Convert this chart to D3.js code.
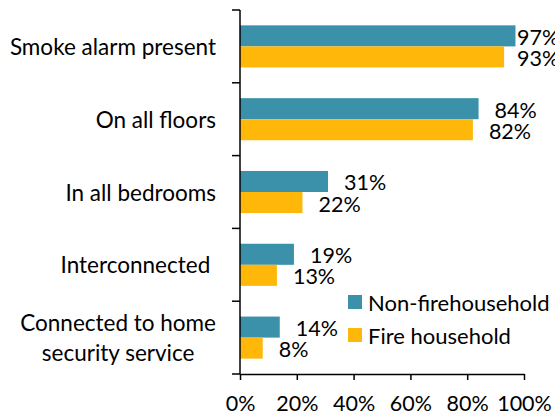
<!DOCTYPE html>
<html>
<head>
<meta charset="utf-8">
<script src="https://cdn.jsdelivr.net/npm/d3@7"></script>
<style>
  html, body { margin: 0; padding: 0; background: #fff; }
  svg { display: block; }
  text { font-family: Lato, "Open Sans", sans-serif; fill: #000; }
</style>
</head>
<body>
<svg id="chart" width="555" height="416"></svg>
<script>
const categories = ["Smoke alarm present", "On all floors", "In all bedrooms", "Interconnected ", "Connected to home\nsecurity service"];
const series = ["Non-firehousehold", "Fire household"];
const nonFire = [97, 84, 31, 19, 14];
const fire = [93, 82, 22, 13, 8];
const xTicks = [0, 20, 40, 60, 80, 100];
const colors = ["#3A91A9", "#FFB70A"];

const values = [nonFire, fire];
const svg = d3.select("#chart");
const FS_NUM = 21.5, FS_CAT = 22.5, FS_LEG = 22;

const x = d3.scaleLinear().domain([0, 100]).range([240, 524]);
const y = d3.scaleBand().domain(categories).range([10, 374]).padding(0);
const ys = d3.scaleBand().domain(series).range([0, y.bandwidth()]).paddingInner(0).paddingOuter(0.73);

// bars
categories.forEach((c, i) => {
  const g = svg.append("g").attr("transform", `translate(0,${y(c)})`);
  series.forEach((s, j) => {
    const v = values[j][i];
    g.append("rect")
      .attr("x", x(0))
      .attr("y", ys(s))
      .attr("width", x(v) - x(0))
      .attr("height", ys.bandwidth())
      .attr("fill", colors[j]);
    g.append("text")
      .attr("x", Math.min(x(v) + 16, 517))
      .attr("y", ys(s) + ys.bandwidth() / 2 + 1)
      .attr("dominant-baseline", "central")
      .attr("font-size", FS_NUM)
      .text(v + "%");
  });
});

// y axis
const yAxis = svg.append("g");
yAxis.append("line").attr("x1", 240).attr("x2", 240).attr("y1", 10).attr("y2", 374)
  .attr("stroke", "#000").attr("stroke-width", 1.5);
const boundaries = categories.map(c => y(c)).concat([y.range()[1]]);
boundaries.forEach(b => {
  yAxis.append("line").attr("x1", 232).attr("x2", 240).attr("y1", b).attr("y2", b)
    .attr("stroke", "#000").attr("stroke-width", 1.5);
});
categories.forEach(c => {
  const lines = c.split("\n");
  const cy = y(c) + y.bandwidth() / 2;
  const lh = 30;
  const nodes = lines.map((ln, k) => yAxis.append("text")
      .attr("y", cy + (k - (lines.length - 1) / 2) * lh)
      .attr("dominant-baseline", "central")
      .attr("text-anchor", "middle")
      .attr("font-size", FS_CAT)
      .attr("xml:space", "preserve")
      .style("white-space", "pre")
      .text(ln));
  if (lines.length === 1) {
    nodes[0].attr("text-anchor", "end").attr("x", 216);
  } else {
    const maxW = d3.max(nodes, n => n.node().getComputedTextLength());
    nodes.forEach(n => n.attr("x", 216 - maxW / 2));
  }
});

// x axis
const xAxis = d3.axisBottom(x).tickValues(xTicks).tickFormat(d => d + "%").tickSize(6).tickSizeOuter(0);
const xg = svg.append("g").attr("transform", "translate(0,374)").call(xAxis);
xg.select(".domain").attr("stroke", "#000").attr("stroke-width", 1.5);
xg.selectAll(".tick line").attr("stroke", "#000").attr("stroke-width", 1.5);
xg.selectAll(".tick text").attr("font-size", FS_NUM).attr("font-family", "Lato, sans-serif")
  .attr("fill", "#000").attr("dy", null).attr("y", 37);

// legend
const legend = svg.append("g");
series.forEach((s, j) => {
  const ly = 295 + j * 33;
  legend.append("rect").attr("x", 348).attr("y", ly).attr("width", 14).attr("height", 14).attr("fill", colors[j]);
  legend.append("text").attr("x", 368).attr("y", ly + 7).attr("dominant-baseline", "central")
    .attr("font-size", FS_LEG).text(s);
});
</script>
</body>
</html>
